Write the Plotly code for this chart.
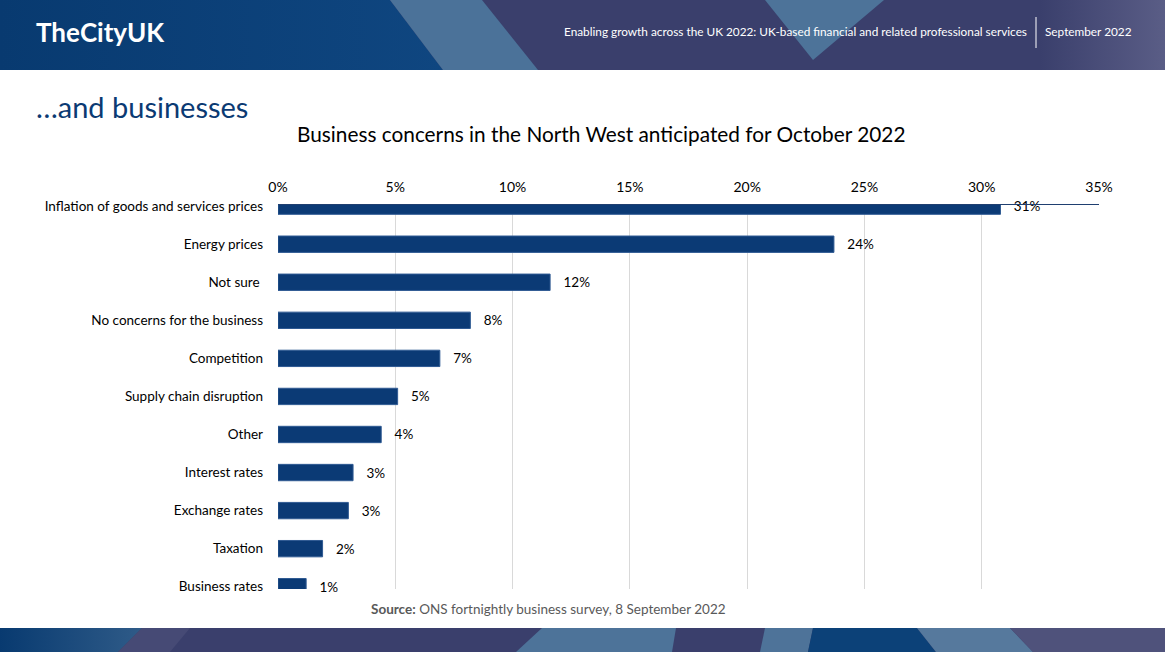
import base64
import plotly.graph_objects as go

# data
categories = [
    "Inflation of goods and services prices",
    "Energy prices",
    "Not sure ",
    "No concerns for the business",
    "Competition",
    "Supply chain disruption",
    "Other",
    "Interest rates",
    "Exchange rates",
    "Taxation",
    "Business rates",
]
shares = [0.308, 0.237, 0.116, 0.082, 0.069, 0.051, 0.044, 0.032, 0.030, 0.019, 0.012]
tick_vals = [0, 0.05, 0.10, 0.15, 0.20, 0.25, 0.30, 0.35]

W, H = 1165, 652
L, R, T, B = 278, 1099, 205, 589  # plot area in pixels

def px(x):
    return (x - L) / (R - L)

def py(y):
    return (B - y) / (B - T)

FONT = "Lato"
NAVY = "#0B3A75"

header_svg = """<svg xmlns="http://www.w3.org/2000/svg" width="1165" height="70" viewBox="0 0 1165 70" preserveAspectRatio="none">
<defs>
<linearGradient id="d" x1="0" x2="1" y1="0" y2="0"><stop offset="0" stop-color="#083A70"/><stop offset="1" stop-color="#0F4680"/></linearGradient>
<linearGradient id="r" x1="0" x2="1" y1="0" y2="0"><stop offset="0" stop-color="#3A3F6C"/><stop offset="1" stop-color="#5A5D86"/></linearGradient>
</defs>
<rect width="1165" height="70" fill="#3A3F6C"/>
<rect x="1040" width="125" height="70" fill="url(#r)"/>
<polygon points="0,0 390,0 443,70 0,70" fill="url(#d)"/>
<polygon points="390,0 482,0 538,70 443,70" fill="#4B7299"/>
<polygon points="765,0 884,0 813,60" fill="#4D7399"/>
</svg>"""

footer_svg = """<svg xmlns="http://www.w3.org/2000/svg" width="1165" height="24" viewBox="0 0 1165 24" preserveAspectRatio="none">
<defs>
<linearGradient id="d" x1="0" x2="1" y1="0" y2="0"><stop offset="0" stop-color="#083A70"/><stop offset="1" stop-color="#2F5B88"/></linearGradient>
</defs>
<rect width="1165" height="24" fill="#3A3F6C"/>
<polygon points="0,0 142,0 118,24 0,24" fill="url(#d)"/>
<polygon points="142,0 190,0 170,24 118,24" fill="#464A75"/>
<polygon points="542,0 676,0 672,24 516,24" fill="#4D7399"/>
<polygon points="765,0 813,0 808,24 760,24" fill="#4E7399"/>
<polygon points="813,0 917,0 936,24 808,24" fill="#0C4178"/>
<polygon points="917,0 1010,0 1033,24 936,24" fill="#56799D"/>
<polygon points="1010,0 1165,0 1165,24 1033,24" fill="#4F527B"/>
</svg>"""

def svg_uri(s):
    return "data:image/svg+xml;base64," + base64.b64encode(s.encode()).decode()

fig = go.Figure(
    go.Bar(
        x=shares,
        y=categories,
        orientation="h",
        width=0.43,
        marker=dict(color=NAVY, line=dict(color="#2F5A93", width=1)),
        texttemplate="   %{x:.0%}",
        textposition="outside",
        textfont=dict(family=FONT, size=13.5, color="#000000"),
        cliponaxis=False,
        hoverinfo="skip",
    )
)

fig.update_layout(
    width=W,
    height=H,
    margin=dict(l=L, r=W - R, t=T, b=H - B),
    paper_bgcolor="white",
    plot_bgcolor="white",
    showlegend=False,
    font=dict(family=FONT, size=12, color="#000000"),
    xaxis=dict(
        side="top",
        range=[0, 0.35],
        tickvals=tick_vals,
        tickformat=".0%",
        showgrid=True,
        gridcolor="#D9D9D9",
        gridwidth=1,
        zeroline=False,
        showline=True,
        linecolor="#1F3F70",
        linewidth=1,
        ticks="",
        ticklabelstandoff=6,
        tickfont=dict(family=FONT, size=14, color="#000000"),
        fixedrange=True,
    ),
    yaxis=dict(
        type="category",
        range=[10.06, -0.03],
        showgrid=False,
        zeroline=False,
        showline=False,
        ticks="",
        ticklabelstandoff=14,
        tickfont=dict(family=FONT, size=13.5, color="#000000"),
        fixedrange=True,
    ),
    images=[
        dict(source=svg_uri(header_svg), xref="paper", yref="paper",
             x=px(0), y=py(0), sizex=W / (R - L), sizey=70 / (B - T),
             xanchor="left", yanchor="top", sizing="stretch", layer="below"),
        dict(source=svg_uri(footer_svg), xref="paper", yref="paper",
             x=px(0), y=py(628), sizex=W / (R - L), sizey=24 / (B - T),
             xanchor="left", yanchor="top", sizing="stretch", layer="below"),
    ],
    shapes=[
        dict(type="line", xref="paper", yref="paper",
             x0=px(1036), x1=px(1036), y0=py(17), y1=py(48),
             line=dict(color="white", width=1)),
    ],
)

annotations = [
    dict(text="<b>TheCityUK</b>", x=px(34), y=py(32), xanchor="left",
         font=dict(family=FONT, size=26, color="white")),
    dict(text="Enabling growth across the UK 2022: UK-based financial and related professional services",
         x=px(1029), y=py(31), xanchor="right",
         font=dict(family=FONT, size=11.8, color="white")),
    dict(text="September 2022", x=px(1043), y=py(31), xanchor="left",
         font=dict(family=FONT, size=11.8, color="white")),
    dict(text="…and businesses", x=px(34), y=py(106), xanchor="left",
         font=dict(family=FONT, size=29, color="#0B3A73")),
    dict(text="Business concerns in the North West anticipated for October 2022",
         x=px(601), y=py(133), xanchor="center",
         font=dict(family=FONT, size=20.8, color="#000000")),
    dict(text="<b>Source:</b> ONS fortnightly business survey, 8 September 2022",
         x=px(548), y=py(609), xanchor="center",
         font=dict(family=FONT, size=13.5, color="#595959")),
]
for a in annotations:
    a.update(xref="paper", yref="paper", yanchor="middle", showarrow=False)
fig.update_layout(annotations=annotations)

fig.write_html("out.html", config={"displayModeBar": False},
               post_script="document.body.style.margin='0';")
